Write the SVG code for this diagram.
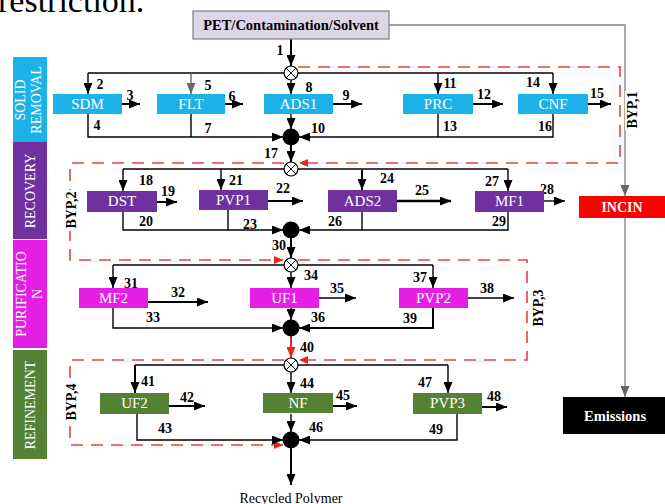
<svg xmlns="http://www.w3.org/2000/svg" width="665" height="504" viewBox="0 0 665 504">
<style>
text{font-family:"Liberation Serif","Times New Roman",serif}
.n{font-weight:bold;font-size:14px;fill:#000;text-anchor:middle}
.bt{font-size:15px;fill:#fff;text-anchor:middle}
.st{font-size:14px;fill:#fff;text-anchor:middle}
.byl{font-weight:bold;font-size:14px;fill:#000;text-anchor:middle}
.c{stroke:#000;stroke-width:1.4;fill:none}
.o{stroke:#000;stroke-width:2;fill:none}
.g{stroke:#808080;stroke-width:1.3;fill:none}
.r{stroke:#e8423c;stroke-width:1.6;stroke-dasharray:12 8;fill:none}
.b1{fill:#1db1ea}.b2{fill:#7030a0}.b3{fill:#e51ee5}.b4{fill:#548235}
.mx{fill:#fff;stroke:#000;stroke-width:1.2}
</style>
<defs>
<marker id="ah" markerUnits="userSpaceOnUse" markerWidth="11" markerHeight="9" refX="11" refY="4.5" orient="auto"><path d="M0,0L11,4.5L0,9z" fill="#000"/></marker>
<marker id="ahg" markerUnits="userSpaceOnUse" markerWidth="11" markerHeight="9" refX="11" refY="4.5" orient="auto"><path d="M0,0L11,4.5L0,9z" fill="#666"/></marker>
<marker id="ahr" markerUnits="userSpaceOnUse" markerWidth="9" markerHeight="8" refX="9" refY="4" orient="auto"><path d="M0,0L9,4L0,8z" fill="#e8241c"/></marker>
<marker id="ahrr" markerUnits="userSpaceOnUse" markerWidth="11" markerHeight="9" refX="11" refY="4.5" orient="auto"><path d="M0,0L11,4.5L0,9z" fill="#e8241c"/></marker>
</defs>
<rect width="665" height="504" fill="#fff"/>
<text x="-2" y="12" font-size="34" fill="#000">restriction.</text>

<!-- side labels -->
<g id="lbl-solid"><rect x="13" y="57" width="34" height="85" class="b1"/><text class="st" transform="translate(25,100) rotate(-90)">SOLID</text><text class="st" transform="translate(41,100) rotate(-90)">REMOVAL</text></g>
<g id="lbl-recovery"><rect x="13" y="142" width="34" height="97" class="b2"/><text class="st" transform="translate(35,191) rotate(-90)">RECOVERY</text></g>
<g id="lbl-purification"><rect x="13" y="240" width="34" height="108" class="b3"/><text class="st" transform="translate(26,294) rotate(-90)">PURIFICATIO</text><text class="st" transform="translate(42,294) rotate(-90)">N</text></g>
<g id="lbl-refinement"><rect x="13" y="350" width="34" height="109" class="b4"/><text class="st" transform="translate(35,405) rotate(-90)">REFINEMENT</text></g>

<!-- connectors -->
<g id="connectors">
<path class="g" d="M389,25H625V196" marker-end="url(#ahg)"/>
<path class="g" d="M625,218V397" marker-end="url(#ahg)"/>
<path class="r" d="M298,67H620V163H299" marker-end="url(#ahr)"/>
<path class="r" d="M284,163H70V260H283" marker-end="url(#ahr)"/>
<path class="r" d="M298,260H527V360H299" marker-end="url(#ahr)"/>
<path class="r" d="M284,360H70V445H283" marker-end="url(#ahr)"/>

<path class="o" d="M291,39V66" marker-end="url(#ah)"/>
<path class="c" d="M88,73H553"/>
<path class="c" d="M88,73V94" marker-end="url(#ah)"/>
<path stroke="#666" stroke-width="1.4" fill="none" d="M191,73V94" marker-end="url(#ahg)"/>
<path class="c" d="M291,80V94" marker-end="url(#ah)"/>
<path class="c" d="M438,73V94" marker-end="url(#ah)"/>
<path class="c" d="M553,73V94" marker-end="url(#ah)"/>
<path class="o" d="M122,104H140" marker-end="url(#ah)"/>
<path class="o" d="M225,104H243" marker-end="url(#ah)"/>
<path class="o" d="M333,104H362" marker-end="url(#ah)"/>
<path class="o" d="M473,104H503" marker-end="url(#ah)"/>
<path class="o" d="M588,104H611" marker-end="url(#ah)"/>
<path class="c" d="M88,114V137H283" marker-end="url(#ah)"/>
<path class="c" d="M191,114V137"/>
<path class="c" d="M553,114V137H299" marker-end="url(#ah)"/>
<path class="c" d="M438,114V137"/>
<path class="c" d="M291,114V129" marker-end="url(#ah)"/>
<path class="o" d="M291,145V162" marker-end="url(#ah)"/>

<path class="c" d="M123,169H508"/>
<path class="c" d="M123,169V191" marker-end="url(#ah)"/>
<path class="c" d="M221,169V190" marker-end="url(#ah)"/>
<path class="o" d="M362,170V190" marker-end="url(#ah)"/>
<path class="c" d="M508,169V191" marker-end="url(#ah)"/>
<path class="o" d="M157,202H177" marker-end="url(#ah)"/>
<path class="o" d="M268,201H303" marker-end="url(#ah)"/>
<path stroke="#000" stroke-width="2.6" fill="none" d="M397,201H451" marker-end="url(#ah)"/>
<path class="c" d="M544,201H565" marker-end="url(#ah)"/>
<path class="c" d="M123,212V230H283" marker-end="url(#ah)"/>
<path class="c" d="M228,210V230"/>
<path class="c" d="M508,212V230H299" marker-end="url(#ah)"/>
<path class="c" d="M362,212V230"/>
<path class="o" d="M291,238V258" marker-end="url(#ah)"/>

<path class="c" d="M113,265H433"/>
<path class="c" d="M113,265V288" marker-end="url(#ah)"/>
<path class="c" d="M291,272V288" marker-end="url(#ah)"/>
<path class="c" d="M433,265V288" marker-end="url(#ah)"/>
<path class="o" d="M148,302H208" marker-end="url(#ah)"/>
<path class="c" d="M319,298H356" marker-end="url(#ah)"/>
<path class="c" d="M468,298H514" marker-end="url(#ah)"/>
<path class="c" d="M113,308V328H283" marker-end="url(#ah)"/>
<path class="o" d="M433,308V328H299" marker-end="url(#ah)"/>
<path class="c" d="M291,308V320" marker-end="url(#ah)"/>
<path stroke="#e8241c" stroke-width="2" fill="none" d="M291,336V358" marker-end="url(#ahrr)"/>

<path class="c" d="M135,365H448"/>
<path class="o" d="M135,365V393" marker-end="url(#ah)"/>
<path class="c" d="M291,372V393" marker-end="url(#ah)"/>
<path class="c" d="M448,365V393" marker-end="url(#ah)"/>
<path class="o" d="M169,406H205" marker-end="url(#ah)"/>
<path class="o" d="M333,406H357" marker-end="url(#ah)"/>
<path class="o" d="M482,407H507" marker-end="url(#ah)"/>
<path class="c" d="M137,414V440H283" marker-end="url(#ah)"/>
<path class="c" d="M457,414V440H299" marker-end="url(#ah)"/>
<path class="c" d="M291,414V432" marker-end="url(#ah)"/>
<path class="o" d="M291,448V485" marker-end="url(#ah)"/>
</g>

<g id="numbers">
<text class="n" x="280" y="55">1</text>
<text class="n" x="100" y="89">2</text>
<text class="n" x="130" y="100">3</text>
<text class="n" x="97" y="130">4</text>
<text class="n" x="208" y="90">5</text>
<text class="n" x="232" y="101">6</text>
<text class="n" x="208" y="133">7</text>
<text class="n" x="309" y="92">8</text>
<text class="n" x="346" y="100">9</text>
<text class="n" x="318" y="133">10</text>
<text class="n" x="450" y="88">11</text>
<text class="n" x="484" y="99">12</text>
<text class="n" x="450" y="131">13</text>
<text class="n" x="533" y="87">14</text>
<text class="n" x="597" y="98">15</text>
<text class="n" x="545" y="131">16</text>
<text class="n" x="271" y="158">17</text>
<text class="n" x="146" y="185">18</text>
<text class="n" x="168" y="196">19</text>
<text class="n" x="146" y="226">20</text>
<text class="n" x="236" y="185">21</text>
<text class="n" x="283" y="193">22</text>
<text class="n" x="250" y="229">23</text>
<text class="n" x="387" y="183">24</text>
<text class="n" x="422" y="195">25</text>
<text class="n" x="335" y="226">26</text>
<text class="n" x="492" y="186">27</text>
<text class="n" x="547" y="194">28</text>
<text class="n" x="499" y="226">29</text>
<text class="n" x="279" y="250">30</text>
<text class="n" x="131" y="288">31</text>
<text class="n" x="178" y="297">32</text>
<text class="n" x="153" y="322">33</text>
<text class="n" x="311" y="280">34</text>
<text class="n" x="337" y="293">35</text>
<text class="n" x="318" y="322">36</text>
<text class="n" x="420" y="282">37</text>
<text class="n" x="487" y="293">38</text>
<text class="n" x="410" y="323">39</text>
<text class="n" x="307" y="352">40</text>
<text class="n" x="148" y="386">41</text>
<text class="n" x="187" y="402">42</text>
<text class="n" x="165" y="433">43</text>
<text class="n" x="307" y="388">44</text>
<text class="n" x="343" y="400">45</text>
<text class="n" x="316" y="432">46</text>
<text class="n" x="425" y="387">47</text>
<text class="n" x="494" y="401">48</text>
<text class="n" x="436" y="434">49</text>
</g>

<g id="byp-labels">
<rect x="625" y="91" width="14" height="39" fill="#fff"/>
<text class="byl" transform="translate(637,110) rotate(-90)">BYP,1</text>
<rect x="64" y="190" width="14" height="41" fill="#fff"/>
<text class="byl" transform="translate(76,210) rotate(-90)">BYP,2</text>
<text class="byl" transform="translate(543,308) rotate(-90)">BYP,3</text>
<rect x="64" y="381" width="14" height="42" fill="#fff"/>
<text class="byl" transform="translate(76,402) rotate(-90)">BYP,4</text>
</g>

<g id="feed"><rect x="193" y="11" width="196" height="28" fill="#dcd6e6" stroke="#7f7f7f" stroke-width="1.2"/><text x="291" y="30" font-weight="bold" font-size="14.5" text-anchor="middle">PET/Contamination/Solvent</text></g>

<g id="mix1"><circle class="mx" cx="291" cy="73" r="7"/><path d="M286,68L296,78M296,68L286,78" stroke="#000" stroke-width="1"/></g>
<g id="mix2"><circle class="mx" cx="291" cy="169" r="7"/><path d="M286,164L296,174M296,164L286,174" stroke="#000" stroke-width="1"/></g>
<g id="mix3"><circle class="mx" cx="291" cy="265" r="7"/><path d="M286,260L296,270M296,260L286,270" stroke="#000" stroke-width="1"/></g>
<g id="mix4"><circle class="mx" cx="291" cy="365" r="7"/><path d="M286,360L296,370M296,360L286,370" stroke="#000" stroke-width="1"/></g>

<g id="sum1"><circle cx="291" cy="137" r="8.5" fill="#000"/></g>
<g id="sum2"><circle cx="291" cy="230" r="8.5" fill="#000"/></g>
<g id="sum3"><circle cx="291" cy="328" r="8.5" fill="#000"/></g>
<g id="sum4"><circle cx="291" cy="440" r="8.5" fill="#000"/></g>

<g id="SDM"><rect x="53" y="94" width="69" height="20" class="b1"/><text class="bt" x="87.5" y="109">SDM</text></g>
<g id="FLT"><rect x="157" y="94" width="68" height="20" class="b1"/><text class="bt" x="191" y="109">FLT</text></g>
<g id="ADS1"><rect x="264" y="94" width="69" height="20" class="b1"/><text class="bt" x="298.5" y="109">ADS1</text></g>
<g id="PRC"><rect x="403" y="94" width="70" height="20" class="b1"/><text class="bt" x="438" y="109">PRC</text></g>
<g id="CNF"><rect x="518" y="94" width="70" height="20" class="b1"/><text class="bt" x="553" y="109">CNF</text></g>

<g id="DST"><rect x="87" y="191" width="70" height="21" class="b2"/><text class="bt" x="122" y="206">DST</text></g>
<g id="PVP1"><rect x="199" y="190" width="69" height="20" class="b2"/><text class="bt" x="233.5" y="205">PVP1</text></g>
<g id="ADS2"><rect x="328" y="190" width="69" height="22" class="b2"/><text class="bt" x="362.5" y="206">ADS2</text></g>
<g id="MF1"><rect x="475" y="191" width="69" height="21" class="b2"/><text class="bt" x="509.5" y="206">MF1</text></g>

<g id="MF2"><rect x="79" y="288" width="69" height="20" class="b3"/><text class="bt" x="113.5" y="303">MF2</text></g>
<g id="UF1"><rect x="250" y="288" width="69" height="20" class="b3"/><text class="bt" x="284.5" y="303">UF1</text></g>
<g id="PVP2"><rect x="399" y="288" width="69" height="20" class="b3"/><text class="bt" x="433.5" y="303">PVP2</text></g>

<g id="UF2"><rect x="100" y="393" width="69" height="21" class="b4"/><text class="bt" x="134.5" y="408">UF2</text></g>
<g id="NF"><rect x="263" y="393" width="70" height="20" class="b4"/><text class="bt" x="298" y="408">NF</text></g>
<g id="PVP3"><rect x="413" y="393" width="69" height="21" class="b4"/><text class="bt" x="447.5" y="408">PVP3</text></g>

<g id="INCIN"><rect x="579" y="196" width="86" height="22" fill="#ff0000"/><text x="622" y="212" font-weight="bold" font-size="14" fill="#fff" text-anchor="middle">INCIN</text></g>
<g id="Emissions"><rect x="563" y="397" width="102" height="37" fill="#000"/><text x="615" y="421" font-weight="bold" font-size="14.5" fill="#fff" text-anchor="middle">Emissions</text></g>

<g id="product"><text x="291" y="503" font-size="14" text-anchor="middle">Recycled Polymer</text></g>
</svg>
